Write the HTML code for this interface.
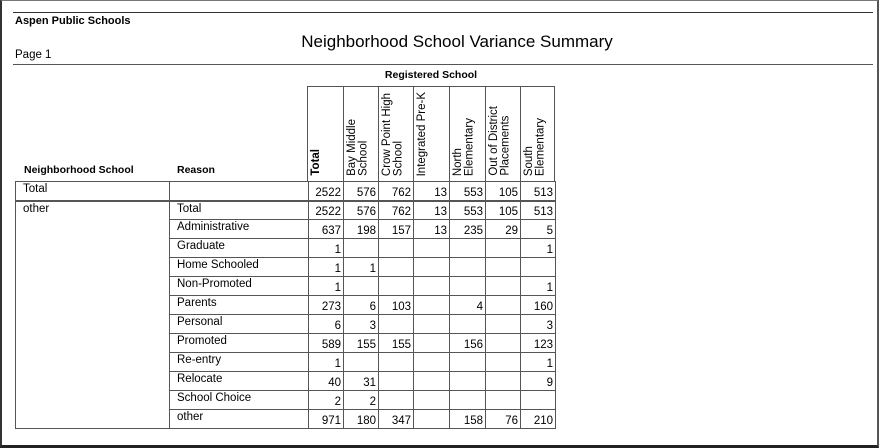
<!DOCTYPE html>
<html><head><meta charset="utf-8"><style>
body{margin:0;width:883px;height:448px;background:#fff;font-family:"Liberation Sans",Arial,sans-serif;position:relative;overflow:hidden;color:#000}
.a{position:absolute}
.frame{left:0;top:0;border-left:2px solid #333;border-top:1px solid #777;border-right:2px solid #555;border-bottom:3px solid #222;box-sizing:border-box;width:879px;height:448px}
.hl{position:absolute;height:0;border-top:1px solid #333}
table{border-collapse:collapse;position:absolute;table-layout:fixed;font-size:11.5px}
td{border:1px solid #555;padding:0;height:18px;box-sizing:border-box;overflow:hidden;white-space:nowrap}
td.l{padding-left:7px;vertical-align:top;padding-top:1px}
td.n{text-align:right;padding-right:2px;vertical-align:bottom;padding-bottom:1px}
.vh{position:absolute;top:86px;height:95px;border-left:1px solid #555;box-sizing:border-box}
.vt{position:absolute;bottom:5px;writing-mode:vertical-rl;transform:rotate(180deg);font-size:11.5px;line-height:11.5px;white-space:nowrap}
</style></head><body>
<div class="a frame"></div>
<div class="hl" style="left:13px;top:12px;width:860px"></div>
<div class="a" style="left:15px;top:15px;font-size:11px;font-weight:bold">Aspen Public Schools</div>
<div class="a" style="left:0;width:914px;top:32px;text-align:center;font-size:17px">Neighborhood School Variance Summary</div>
<div class="a" style="left:15px;top:49px;font-size:11.5px">Page 1</div>
<div class="hl" style="left:13px;top:64px;width:860px;border-top:1px solid #555"></div>
<div class="a" style="left:307px;width:248px;top:69px;text-align:center;font-size:10.5px;font-weight:bold">Registered School</div>
<div class="a" style="left:307px;top:86px;width:248px;height:95px;border-top:1px solid #555;border-right:1px solid #555;box-sizing:border-box"></div>
<div class="vh" style="left:307px;width:37px"><div class="vt" style="left:3px;font-weight:bold">Total</div></div>
<div class="vh" style="left:343px;width:36px"><div class="vt" style="left:3px">Bay Middle<br>School</div></div>
<div class="vh" style="left:378px;width:36px"><div class="vt" style="left:3px">Crow Point High<br>School</div></div>
<div class="vh" style="left:413px;width:36px"><div class="vt" style="left:3px">Integrated Pre-K</div></div>
<div class="vh" style="left:449px;width:36px"><div class="vt" style="left:3px">North<br>Elementary</div></div>
<div class="vh" style="left:485px;width:36px"><div class="vt" style="left:3px">Out of District<br>Placements</div></div>
<div class="vh" style="left:520px;width:35px"><div class="vt" style="left:3px">South<br>Elementary</div></div>
<div class="a" style="left:24px;top:164px;font-size:10.5px;font-weight:bold">Neighborhood School</div>
<div class="a" style="left:177px;top:164px;font-size:10.5px;font-weight:bold">Reason</div>
<table style="left:15px;top:181px;width:540px">
<colgroup><col style="width:154px"><col style="width:139px"><col style="width:35px"><col style="width:35px"><col style="width:35px"><col style="width:36px"><col style="width:36px"><col style="width:35px"><col style="width:35px"></colgroup>
<tr><td class="l" style="height:19px">Total</td><td></td><td class="n">2522</td><td class="n">576</td><td class="n">762</td><td class="n">13</td><td class="n">553</td><td class="n">105</td><td class="n">513</td></tr>
</table>
<table style="left:15px;top:201px;width:540px">
<colgroup><col style="width:154px"><col style="width:139px"><col style="width:35px"><col style="width:35px"><col style="width:35px"><col style="width:36px"><col style="width:36px"><col style="width:35px"><col style="width:35px"></colgroup>
<tr><td class="l" rowspan="12" style="vertical-align:top">other</td><td class="l" style="height:17px">Total</td><td class="n">2522</td><td class="n">576</td><td class="n">762</td><td class="n">13</td><td class="n">553</td><td class="n">105</td><td class="n">513</td></tr>
<tr><td class="l" style="height:19px">Administrative</td><td class="n">637</td><td class="n">198</td><td class="n">157</td><td class="n">13</td><td class="n">235</td><td class="n">29</td><td class="n">5</td></tr>
<tr><td class="l" style="height:19px">Graduate</td><td class="n">1</td><td></td><td></td><td></td><td></td><td></td><td class="n">1</td></tr>
<tr><td class="l" style="height:19px">Home Schooled</td><td class="n">1</td><td class="n">1</td><td></td><td></td><td></td><td></td><td></td></tr>
<tr><td class="l" style="height:19px">Non-Promoted</td><td class="n">1</td><td></td><td></td><td></td><td></td><td></td><td class="n">1</td></tr>
<tr><td class="l" style="height:19px">Parents</td><td class="n">273</td><td class="n">6</td><td class="n">103</td><td></td><td class="n">4</td><td></td><td class="n">160</td></tr>
<tr><td class="l" style="height:19px">Personal</td><td class="n">6</td><td class="n">3</td><td></td><td></td><td></td><td></td><td class="n">3</td></tr>
<tr><td class="l" style="height:19px">Promoted</td><td class="n">589</td><td class="n">155</td><td class="n">155</td><td></td><td class="n">156</td><td></td><td class="n">123</td></tr>
<tr><td class="l" style="height:19px">Re-entry</td><td class="n">1</td><td></td><td></td><td></td><td></td><td></td><td class="n">1</td></tr>
<tr><td class="l" style="height:19px">Relocate</td><td class="n">40</td><td class="n">31</td><td></td><td></td><td></td><td></td><td class="n">9</td></tr>
<tr><td class="l" style="height:19px">School Choice</td><td class="n">2</td><td class="n">2</td><td></td><td></td><td></td><td></td><td></td></tr>
<tr><td class="l" style="height:19px">other</td><td class="n">971</td><td class="n">180</td><td class="n">347</td><td></td><td class="n">158</td><td class="n">76</td><td class="n">210</td></tr>
</table>
</body></html>
